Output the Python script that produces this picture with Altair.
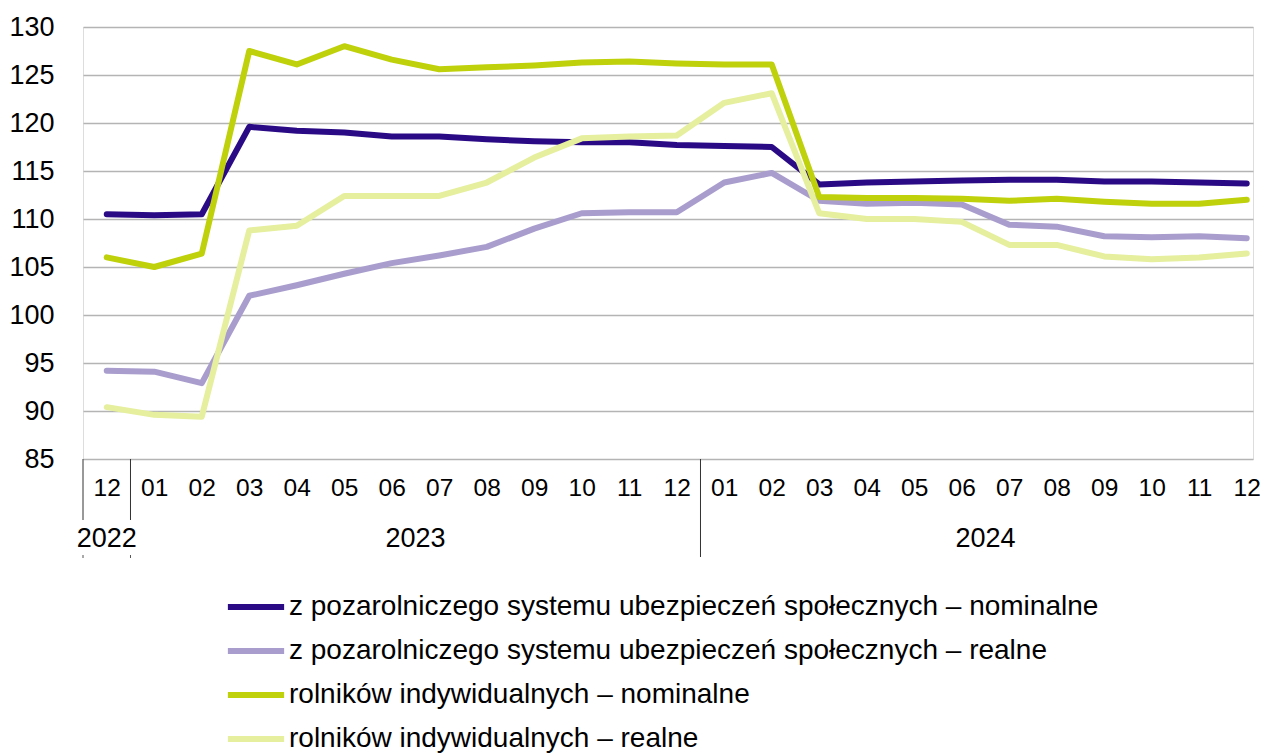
import json
import altair as alt
import pandas as pd

months = ["12", "01", "02", "03", "04", "05", "06", "07", "08", "09", "10", "11", "12",
          "01", "02", "03", "04", "05", "06", "07", "08", "09", "10", "11", "12"]

series_names = [
    "z pozarolniczego systemu ubezpieczeń społecznych – nominalne",
    "z pozarolniczego systemu ubezpieczeń społecznych – realne",
    "rolników indywidualnych – nominalne",
    "rolników indywidualnych – realne",
]
series_colors = ["#2b0b85", "#a99dcd", "#bfd10b", "#e5ef9d"]

poz_nominal = [110.5, 110.4, 110.5, 119.6, 119.2, 119.0, 118.6, 118.6, 118.3, 118.1, 118.0, 118.0, 117.7,
               117.6, 117.5, 113.6, 113.8, 113.9, 114.0, 114.1, 114.1, 113.9, 113.9, 113.8, 113.7]
poz_real = [94.2, 94.1, 92.9, 102.0, 103.1, 104.3, 105.4, 106.2, 107.1, 109.0, 110.6, 110.7, 110.7,
            113.8, 114.8, 111.9, 111.6, 111.7, 111.5, 109.4, 109.2, 108.2, 108.1, 108.2, 108.0]
rol_nominal = [106.0, 105.0, 106.4, 127.5, 126.1, 128.0, 126.6, 125.6, 125.8, 126.0, 126.3, 126.4, 126.2,
               126.1, 126.1, 112.3, 112.2, 112.2, 112.1, 111.9, 112.1, 111.8, 111.6, 111.6, 112.0]
rol_real = [90.4, 89.6, 89.4, 108.8, 109.3, 112.4, 112.4, 112.4, 113.8, 116.4, 118.4, 118.6, 118.7,
            122.1, 123.1, 110.6, 110.0, 110.0, 109.7, 107.3, 107.3, 106.1, 105.8, 106.0, 106.4]

years = ["2022", "2023", "2024"]
year_pos = [0, 6.5, 18.5]
short_seps = [-0.5, 0.5]
long_seps = [12.5]

FONT = "Liberation Sans"

rows = []
for name, vals in zip(series_names, [poz_nominal, poz_real, rol_nominal, rol_real]):
    for i, v in enumerate(vals):
        rows.append({"idx": i, "value": v, "series": name, "order": series_names.index(name)})
df = pd.DataFrame(rows)

xscale = alt.Scale(domain=[-0.5, 24.132], nice=False, zero=False)
yscale = alt.Scale(domain=[85, 130], nice=False, zero=False)

label_expr = json.dumps(months) + "[datum.value]"

lines = alt.Chart(df).mark_line(strokeWidth=6, strokeCap="round", strokeJoin="round").encode(
    x=alt.X("idx:Q", scale=xscale,
            axis=alt.Axis(values=list(range(25)), labelExpr=label_expr, title=None,
                          grid=False, ticks=False, domain=False, labelFont=FONT,
                          labelFontSize=24.5, labelColor="#000000", labelPadding=29,
                          labelBaseline="middle", labelFlush=False)),
    y=alt.Y("value:Q", scale=yscale,
            axis=alt.Axis(values=list(range(85, 131, 5)), title=None, ticks=False,
                          domain=False, grid=True, gridColor="#b4b4b4", gridWidth=1.5,
                          labelFont=FONT, labelFontSize=27, labelColor="#000000",
                          labelPadding=29, labelBaseline="middle")),
    color=alt.Color("series:N",
                    scale=alt.Scale(domain=series_names, range=series_colors),
                    legend=alt.Legend(title=None, orient="none", legendX=147.5, legendY=554.5,
                                      direction="vertical", symbolType="M-1.25,0H1.25",
                                      symbolSize=2025, symbolStrokeWidth=6, labelOffset=7.5,
                                      rowPadding=4, padding=0, labelFont=FONT,
                                      labelFontSize=28, labelColor="#000000",
                                      labelLimit=1200)),
    order=alt.Order("order:Q"),
)

year_df = pd.DataFrame({"year": years, "pos": year_pos})
year_text = alt.Chart(year_df).mark_text(font=FONT, fontSize=27, color="#000000",
                                         baseline="middle", align="center").encode(
    x=alt.X("pos:Q", scale=xscale),
    y=alt.value(512),
    text="year:N",
)

short_df = pd.DataFrame({"pos": short_seps})
short_rules = alt.Chart(short_df).mark_rule(color="#333333", strokeWidth=1).encode(
    x=alt.X("pos:Q", scale=xscale), y=alt.value(432), y2=alt.value(493))
short_ticks = alt.Chart(short_df).mark_rule(color="#555555", strokeWidth=1).encode(
    x=alt.X("pos:Q", scale=xscale), y=alt.value(528), y2=alt.value(531))

long_df = pd.DataFrame({"pos": long_seps})
long_rules = alt.Chart(long_df).mark_rule(color="#333333", strokeWidth=1).encode(
    x=alt.X("pos:Q", scale=xscale), y=alt.value(432), y2=alt.value(530))

chart = alt.layer(lines, short_rules, short_ticks, long_rules, year_text).properties(
    width=1170, height=432,
    autosize=alt.AutoSizeParams(type="none"),
    padding={"left": 75, "top": 19, "right": 7, "bottom": 295},
).configure_view(stroke=None).configure(font=FONT)

chart.save("out.html", embed_options={"renderer": "svg", "actions": False})
